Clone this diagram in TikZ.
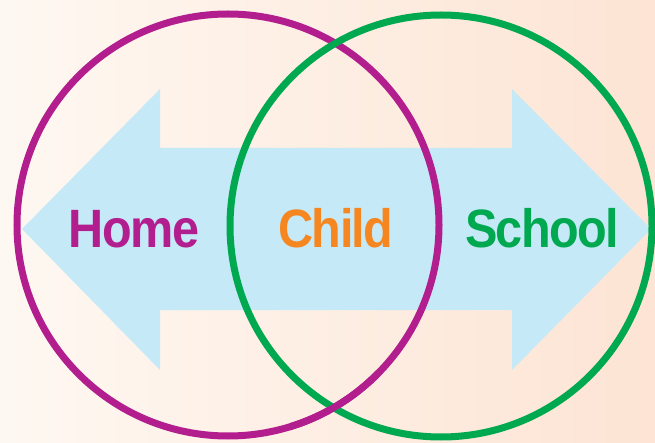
\documentclass[tikz,border=0pt]{standalone}
\usepackage{fontspec}
\setmainfont{Liberation Sans}
\newfontfamily\labfont{Liberation Sans}[FakeStretch=0.9,LetterSpace=-3]
\definecolor{homec}{RGB}{178,30,142}
\definecolor{schoolc}{RGB}{0,168,80}
\definecolor{childc}{RGB}{245,134,32}
\definecolor{arrowc}{RGB}{198,233,248}
\definecolor{bgL}{RGB}{254,248,242}
\definecolor{bgR}{RGB}{253,228,212}
\tikzset{
  ring/.style={line width=7pt},
  lab/.style={anchor=base, inner sep=0pt, font=\labfont\bfseries\fontsize{54}{54}\selectfont}
}
\begin{document}
\begin{tikzpicture}[x=1pt,y=-1pt]
\useasboundingbox (0,0) rectangle (655,443);
\shade[left color=bgL, right color=bgR] (0,0) rectangle (655,443);
% double arrow
\fill[arrowc] (22,229) -- (160,89) -- (160,148) -- (512,148) -- (512,89) -- (651,229)
  -- (512,370) -- (512,310) -- (160,310) -- (160,370) -- cycle;
% circles (interlaced)
\draw[ring, homec] (228,225) circle[radius=211];
\draw[ring, schoolc] (441,226) circle[radius=211];
\begin{scope}
  \clip (290,370) rectangle (380,443);
  \draw[ring, homec] (228,225) circle[radius=211];
\end{scope}
% labels
\node[lab, text=homec] (home) at (134,248) {Home};
\node[lab, text=childc] (child) at (336,248) {Child};
\node[lab, text=schoolc] (school) at (542,248) {School};
\end{tikzpicture}
\end{document}
